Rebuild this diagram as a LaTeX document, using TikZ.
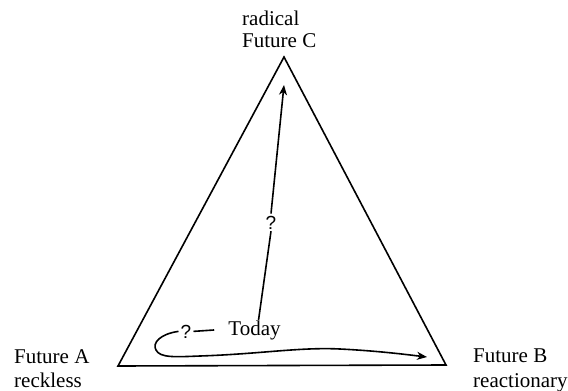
\documentclass[tikz,border=0pt]{standalone}
\usepackage{fontspec}
\setmainfont{Liberation Serif}
\setsansfont{Liberation Sans}
\usetikzlibrary{arrows.meta}
\tikzset{
  lbl/.style={font=\fontsize{21}{25}\selectfont, inner sep=0pt},
  qmark/.style={font=\sffamily\fontsize{19}{23}\selectfont, inner sep=2pt},
  edge/.style={line width=1.6pt, color=black},
  arrow/.style={-{Stealth[length=10pt,width=8pt,inset=3pt]}, line width=1.6pt}
}
\begin{document}
\begin{tikzpicture}[x=1pt,y=-1pt]
  \useasboundingbox (0,0) rectangle (568,391);
  % triangle of the three futures
  \coordinate (cA) at (118,366);
  \coordinate (cB) at (446,365);
  \coordinate (cC) at (284,57);
  \draw[edge, line join=miter] (cA) -- (cB) -- (cC) -- cycle;
  % corner labels
  \node[lbl, anchor=base west] (radC) at (242,25) {radical};
  \node[lbl, anchor=base west] (futC) at (242,47) {Future C};
  \node[lbl, anchor=base west] (futA) at (14,363) {Future A};
  \node[lbl, anchor=base west] (recA) at (14,387) {reckless};
  \node[lbl, anchor=base west] (futB) at (473,362) {Future B};
  \node[lbl, anchor=base west] (reaB) at (473,387) {reactionary};
  % today and the two ways out
  \node[lbl, anchor=base] (today) at (254.5,335) {Today};
  \node[qmark, anchor=base] (qleft) at (186,338) {?};
  \node[qmark, anchor=base] (qup) at (271,229) {?};
  \coordinate (tipC) at (284,85);
  \coordinate (tipB) at (427,357);
  \draw[edge] ([xshift=4pt]today.north) -- (qup.south);
  \draw[arrow] (qup.north) -- (tipC);
  \draw[edge] (qleft.east) -- ([xshift=-14pt]today.west);
  \draw[arrow] (qleft.west) .. controls (160,334) and (152,343) .. (156,350)
    .. controls (160,358) and (175,357) .. (200,356)
    .. controls (260,354) and (300,347) .. (340,349)
    .. controls (380,351) and (410,355) .. (tipB);
\end{tikzpicture}
\end{document}
